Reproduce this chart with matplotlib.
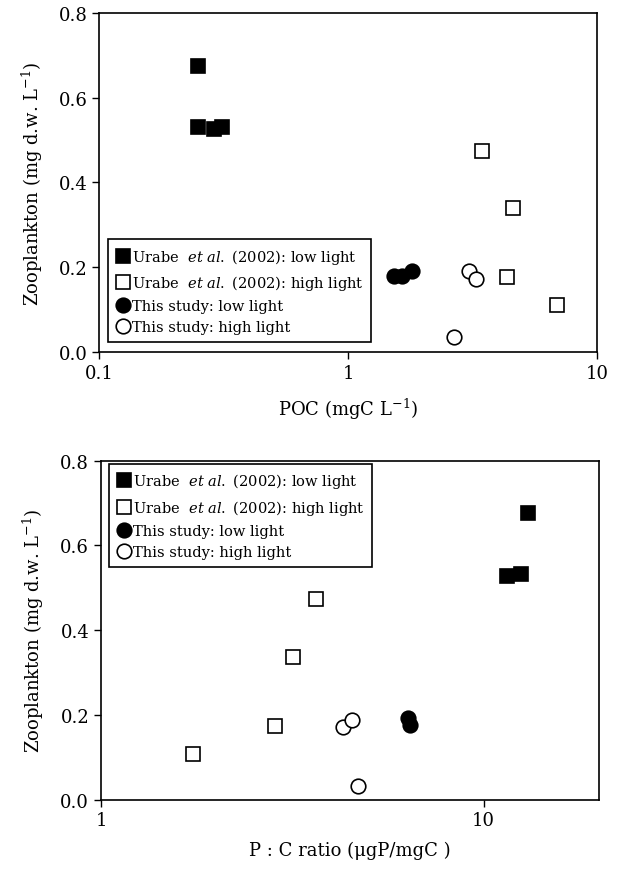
import matplotlib
matplotlib.use("Agg")
import matplotlib.pyplot as plt
from matplotlib.lines import Line2D

plt.rcParams['font.family'] = ['DejaVu Serif']
plt.rcParams['mathtext.fontset'] = 'dejavuserif'

# Top panel: POC vs zooplankton
poc_urabe_low = [0.25, 0.25, 0.289, 0.31]
zoo_urabe_low_top = [0.676, 0.532, 0.526, 0.530]
poc_urabe_high = [3.46, 4.61, 4.34, 6.89]
zoo_urabe_high_top = [0.474, 0.339, 0.176, 0.111]
poc_study_low = [1.53, 1.64, 1.80]
zoo_study_low_top = [0.179, 0.179, 0.192]
poc_study_high = [3.07, 3.28, 2.66]
zoo_study_high_top = [0.192, 0.172, 0.035]

# Bottom panel: P:C ratio vs zooplankton
pc_urabe_low = [13.1, 11.5, 12.5]
zoo_urabe_low_bot = [0.677, 0.527, 0.533]
pc_urabe_high = [3.65, 3.18, 2.85, 1.74]
zoo_urabe_high_bot = [0.474, 0.336, 0.175, 0.108]
pc_study_low = [6.33, 6.43]
zoo_study_low_bot = [0.192, 0.176]
pc_study_high = [4.30, 4.53, 4.71]
zoo_study_high_bot = [0.171, 0.188, 0.033]

legend_labels = [
    r'Urabe  $\mathit{et\ al.}$ (2002): low light',
    r'Urabe  $\mathit{et\ al.}$ (2002): high light',
    'This study: low light',
    'This study: high light',
]
yticks = [0.0, 0.2, 0.4, 0.6, 0.8]

fig = plt.figure(figsize=(6.25, 8.7), dpi=100)
ax1 = fig.add_axes([0.159, 0.5943, 0.796, 0.3896])
ax2 = fig.add_axes([0.1616, 0.0797, 0.7964, 0.3896])

ms = 10.5
mew = 1.2

def draw(ax, xs, ys):
    styles = [('s', 'black'), ('s', 'white'), ('o', 'black'), ('o', 'white')]
    handles = []
    for (x, y), (m, fc), lab in zip(zip(xs, ys), styles, legend_labels):
        ax.plot(x, y, linestyle='none', marker=m, markersize=ms,
                markerfacecolor=fc, markeredgecolor='black', markeredgewidth=mew)
        handles.append(Line2D([], [], linestyle='none', marker=m, markersize=ms,
                              markerfacecolor=fc, markeredgecolor='black',
                              markeredgewidth=mew, label=lab))
    return handles

h1 = draw(ax1, [poc_urabe_low, poc_urabe_high, poc_study_low, poc_study_high],
          [zoo_urabe_low_top, zoo_urabe_high_top, zoo_study_low_top, zoo_study_high_top])
h2 = draw(ax2, [pc_urabe_low, pc_urabe_high, pc_study_low, pc_study_high],
          [zoo_urabe_low_bot, zoo_urabe_high_bot, zoo_study_low_bot, zoo_study_high_bot])

for ax in (ax1, ax2):
    ax.set_xscale('log')
    ax.set_ylim(0, 0.8)
    ax.set_yticks(yticks)
    ax.set_yticklabels([f'{v:.1f}' for v in yticks])
    ax.tick_params(axis='both', which='major', labelsize=13, direction='out', length=5, width=1)
    ax.minorticks_off()
    for s in ax.spines.values():
        s.set_linewidth(1.2)
    ax.set_ylabel(r'Zooplankton (mg d.w. L$^{-1}$)', fontsize=13, labelpad=10)

ax1.set_xlim(0.1, 10)
ax1.set_xticks([0.1, 1, 10])
ax1.set_xticklabels(['0.1', '1', '10'])
ax1.set_xlabel(r'POC (mgC L$^{-1}$)', fontsize=13, labelpad=10)

ax2.set_xlim(1, 20)
ax2.set_xticks([1, 10])
ax2.set_xticklabels(['1', '10'])
ax2.set_xlabel('P : C ratio (μgP/mgC )', fontsize=13, labelpad=8)

leg_kw = dict(fontsize=10.5, frameon=True, fancybox=False, edgecolor='black',
              handletextpad=0.15, handlelength=1.0, labelspacing=0.5,
              borderpad=0.5, borderaxespad=0.0, framealpha=1)
leg1 = ax1.legend(handles=h1, loc='lower left', bbox_to_anchor=(0.018, 0.03), **leg_kw)
leg1.get_frame().set_linewidth(1.2)
leg2 = ax2.legend(handles=h2, loc='upper left', bbox_to_anchor=(0.016, 0.99), **leg_kw)
leg2.get_frame().set_linewidth(1.2)

fig.savefig('out.png', dpi=100)
